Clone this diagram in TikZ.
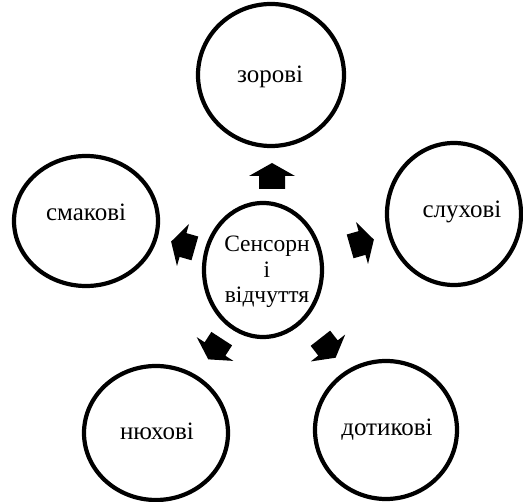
\documentclass[tikz,border=0pt]{standalone}
\usepackage{fontspec}
\setmainfont{Liberation Serif}
\begin{document}
\begin{tikzpicture}[x=1pt,y=-1pt,
  ring/.style={draw=black, line width=4.2pt},
  lbl/.style={font=\fontsize{25}{25}\selectfont, inner sep=0pt, align=center},
  clbl/.style={font=\fontsize{23.5}{25.5}\selectfont, inner sep=0pt, align=center},
  barrow/.style={fill=black}]
\useasboundingbox (0,0) rectangle (523,502);
% rings
\draw[ring] (263,270) ellipse [x radius=59, y radius=67];
\draw[ring] (271,75) ellipse [x radius=73, y radius=71];
\draw[ring] (454,214) ellipse [x radius=67, y radius=71];
\draw[ring] (86,221) ellipse [x radius=72, y radius=65];
\draw[ring] (156,433) ellipse [x radius=72, y radius=67];
\draw[ring] (386,430) ellipse [x radius=71, y radius=69];
% labels
\node[clbl] (c) at (267,272) {Сенсорн\\і\\відчуття};
\node[lbl] (t) at (270,77) {зорові};
\node[lbl] (r) at (462,212) {слухові};
\node[lbl] (l) at (86,212) {смакові};
\node[lbl] (bl) at (157,431) {нюхові};
\node[lbl] (br) at (387,430) {дотикові};
% block arrows
\newcommand\blockarr[4]{%
  \fill[barrow, shift={(#1,#2)}, rotate=#3, scale=#4]
    (-13,-13) -- (0,-13) -- (0,-23) -- (13,0) -- (0,23) -- (0,13) -- (-13,13) -- cycle;}
\blockarr{272}{176}{90}{1}
\blockarr{183}{245}{164}{0.95}
\blockarr{362}{243}{16}{0.95}
\blockarr{215}{349}{-123}{0.95}
\blockarr{328}{348}{-52}{0.95}
\end{tikzpicture}
\end{document}
